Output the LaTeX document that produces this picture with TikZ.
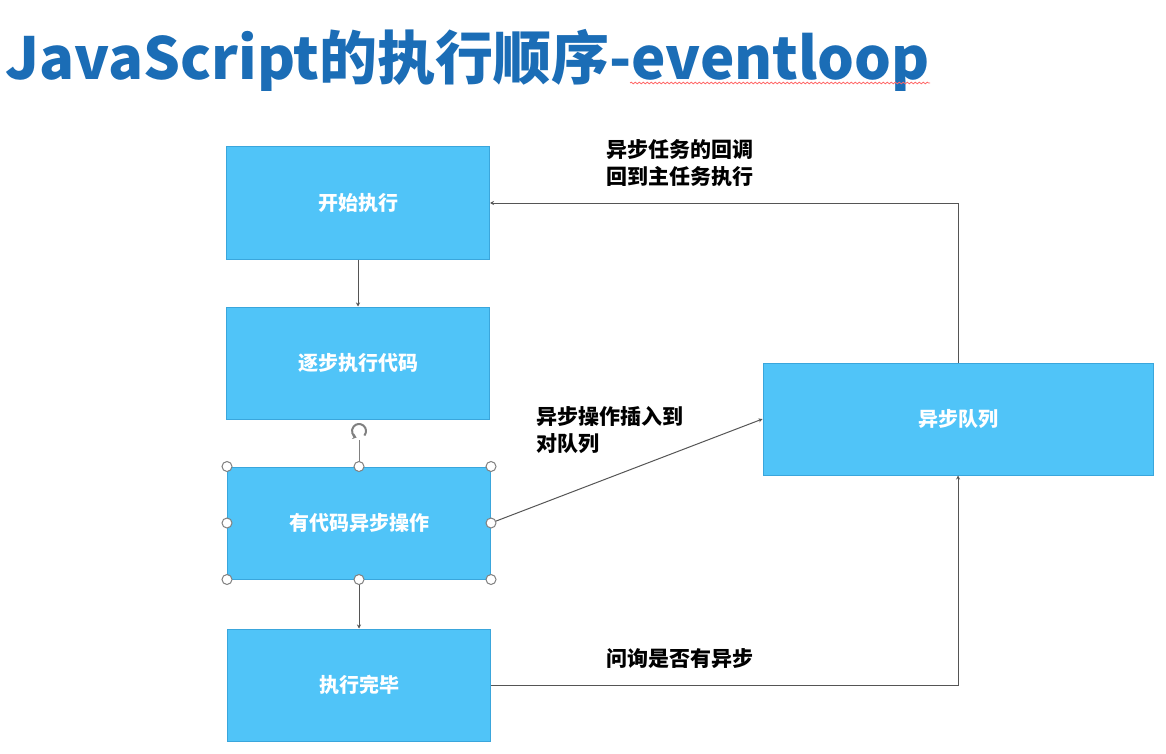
\documentclass[tikz,border=0pt]{standalone}
\usepackage{fontspec}
\setmainfont{Noto Sans CJK SC}
\usetikzlibrary{arrows.meta,decorations.pathmorphing}
\definecolor{boxblue}{HTML}{50C4F8}
\definecolor{boxedge}{HTML}{3AA6DC}
\definecolor{titleblue}{HTML}{1B6DB6}
\definecolor{linegray}{HTML}{555555}
\begin{document}
\begin{tikzpicture}
            [x=1pt,y=-1pt,
             stepbox/.style={rectangle,fill=boxblue,draw=boxedge,line width=1pt,minimum width=263pt,minimum height=112pt,inner sep=0pt,text=white,font=\fontsize{20}{24}\selectfont\bfseries},
             note/.style={align=left,inner sep=0pt,font=\fontsize{21}{27}\selectfont\bfseries},
             arr/.style={draw=linegray,line width=1pt,-{Stealth[length=4pt,width=4pt]}},
             handle/.style={circle,fill=white,draw=gray,line width=1pt,minimum size=10pt,inner sep=0pt}]
            \useasboundingbox[fill=white] (0,0) rectangle (1166,754);
            %
            \node[anchor=base west,inner sep=0pt,text=titleblue,font=\fontsize{58}{58}\selectfont\bfseries] (title) at (5,80) {JavaScript的执行顺序-eventloop};
            \draw[red!60,line width=0.8pt,decorate,decoration={snake,amplitude=0.8pt,segment length=4pt}] (630,83) -- (930,83);
            %
            \node[stepbox] (b1) at (358,203) {开始执行};
            \node[stepbox] (b2) at (358,363) {逐步执行代码};
            \node[stepbox] (b3) at (359,523) {有代码异步操作};
            \node[stepbox] (b4) at (359,685) {执行完毕};
            \node[stepbox,minimum width=390pt] (b5) at (958,419) {异步队列};
            %
            \node[note,anchor=west] (lblback) at (606,163) {异步任务的回调\\回到主任务执行};
            \node[note,anchor=west] (lblpush) at (536,430) {异步操作插入到\\对队列};
            \node[note,anchor=west] (lblask) at (606,659) {问询是否有异步};
            %
            \draw[arr] (b1) -- (b2);
            \draw[arr] (b3.east) -- (b5.west);
            \draw[arr] (b4) -| (b5);
            \draw[arr] (b5) |- (b1);
            \draw[arr] (b3) -- (b4);
            %
            \coordinate (rot) at (359,431);
            \draw[gray,line width=1pt] ([yshift=-9pt]rot) -- (b3.north);
            \draw[gray,line width=2pt,-{Stealth[length=4pt,width=6pt]}] ([shift={(-40:7pt)}]rot) arc[start angle=-40,end angle=250,radius=7pt];
            \foreach \a in {north west,north,north east,west,east,south west,south,south east}
                \node[handle] at (b3.\a) {};
        \end{tikzpicture}
\end{document}
